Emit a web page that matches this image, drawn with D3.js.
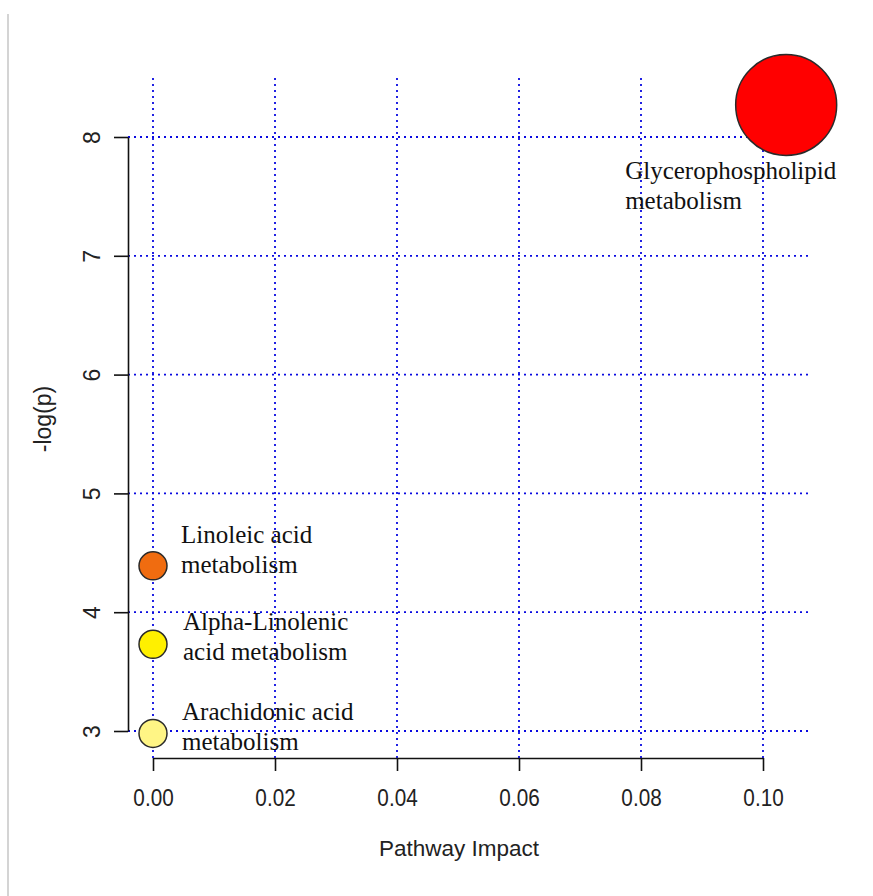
<!DOCTYPE html>
<html>
<head>
<meta charset="utf-8">
<script src="https://cdn.jsdelivr.net/npm/d3@7"></script>
<style>
  html, body { margin: 0; padding: 0; background: #ffffff; }
  svg { display: block; }
</style>
</head>
<body>
<svg id="chart" width="873" height="896"></svg>
<script>
// Pathway analysis: impact vs. significance
const pathways = [
  ["Glycerophospholipid", "metabolism"],
  ["Linoleic acid", "metabolism"],
  ["Alpha-Linolenic", "acid metabolism"],
  ["Arachidonic acid", "metabolism"]
];
const impact = [0.1038, 0, 0, 0];
const negLogP = [8.27, 4.39, 3.73, 2.98];
const fillColors = ["#ff0000", "#f06c10", "#fff000", "#fff585"];

const xTicks = [0, 0.02, 0.04, 0.06, 0.08, 0.10];
const yTicks = [3, 4, 5, 6, 7, 8];

// label offsets (px) from each point centre: [dx, dy of first baseline]
const labelOffsets = [[-161, 74], [28, -23], [30, -14], [29, -13]];

const svg = d3.select("#chart");

// plot region
const plot = { left: 128, right: 812, top: 78, bottom: 758 };

const x = d3.scaleLinear().domain([0, 0.10]).range([153, 763]);
const y = d3.scaleLinear().domain([3, 8]).range([731, 137]);
const r = d3.scaleLinear().domain([0, d3.max(impact)]).range([14, 50.5]);

// frame line along the left edge
svg.append("line")
  .attr("x1", 8).attr("x2", 8).attr("y1", 14).attr("y2", 896)
  .attr("stroke", "#d4d4d4").attr("stroke-width", 2);

// dotted grid
const grid = svg.append("g")
  .attr("stroke", "#0a0ae0")
  .attr("stroke-width", 1.8)
  .attr("stroke-dasharray", "2,4");

grid.selectAll("line.v").data(xTicks).join("line")
  .attr("class", "v")
  .attr("x1", d => x(d)).attr("x2", d => x(d))
  .attr("y1", plot.top).attr("y2", plot.bottom);

grid.selectAll("line.h").data(yTicks).join("line")
  .attr("class", "h")
  .attr("x1", plot.left).attr("x2", plot.right)
  .attr("y1", d => y(d)).attr("y2", d => y(d));

// axes
const tickFont = "'Liberation Sans', Arial, sans-serif";

const xAxis = svg.append("g")
  .attr("transform", `translate(0,${plot.bottom})`)
  .call(d3.axisBottom(x).tickValues(xTicks).tickFormat(d3.format(".2f"))
    .tickSize(13).tickSizeOuter(0));
xAxis.select(".domain").attr("stroke", "#111").attr("stroke-width", 1.6);
xAxis.selectAll(".tick line").attr("stroke", "#111").attr("stroke-width", 1.6);
xAxis.selectAll(".tick text")
  .attr("font-family", tickFont).attr("font-size", 23)
  .attr("fill", "#222")
  .attr("y", null).attr("dy", null)
  .attr("transform", "translate(0,48) scale(0.9,1)");

const yAxis = svg.append("g")
  .attr("transform", `translate(${plot.left},0)`)
  .call(d3.axisLeft(y).tickValues(yTicks).tickFormat(d3.format("d"))
    .tickSize(14).tickSizeOuter(0));
yAxis.select(".domain").attr("stroke", "#111").attr("stroke-width", 1.6);
yAxis.selectAll(".tick line").attr("stroke", "#111").attr("stroke-width", 1.6);
yAxis.selectAll(".tick text")
  .attr("font-family", tickFont).attr("font-size", 23).attr("fill", "#222")
  .attr("x", null).attr("dy", null)
  .attr("text-anchor", "middle")
  .attr("transform", "translate(-28,0) rotate(-90)");

// axis titles
svg.append("text")
  .attr("x", (x(0) + x(0.10)) / 2 + 1).attr("y", 856)
  .attr("text-anchor", "middle")
  .attr("font-family", tickFont).attr("font-size", 22.5).attr("fill", "#222")
  .text("Pathway Impact");

svg.append("text")
  .attr("transform", `translate(51,${(y(3) + y(8)) / 2 - 15}) rotate(-90)`)
  .attr("text-anchor", "middle")
  .attr("font-family", tickFont).attr("font-size", 23).attr("fill", "#222")
  .text("-log(p)");

// pathway bubbles
const rows = pathways.map((name, i) => ({
  name, impact: impact[i], p: negLogP[i], fill: fillColors[i], off: labelOffsets[i]
}));

svg.append("g").selectAll("circle").data(rows).join("circle")
  .attr("cx", d => x(d.impact))
  .attr("cy", d => y(d.p))
  .attr("r", d => r(d.impact))
  .attr("fill", d => d.fill)
  .attr("stroke", "#2a2a2a")
  .attr("stroke-width", 1.5);

// pathway names
const labels = svg.append("g").selectAll("text").data(rows).join("text")
  .attr("font-family", "'Liberation Serif', 'Times New Roman', serif")
  .attr("font-size", 25)
  .attr("fill", "#111")
  .attr("x", d => x(d.impact) + d.off[0])
  .attr("y", d => y(d.p) + d.off[1]);

labels.selectAll("tspan").data(d => d.name.map(line => ({ line, d }))).join("tspan")
  .attr("x", t => x(t.d.impact) + t.d.off[0])
  .attr("dy", (t, i) => i === 0 ? 0 : 30)
  .text(t => t.line);
</script>
</body>
</html>
